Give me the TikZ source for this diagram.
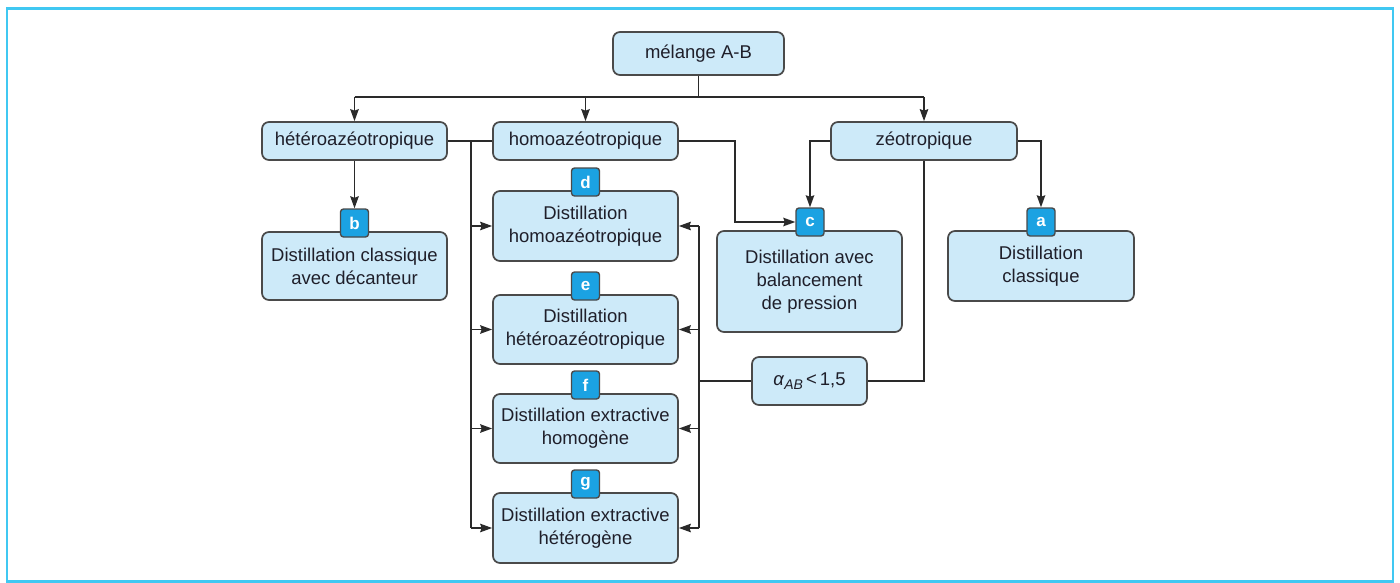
\documentclass[tikz,border=0pt]{standalone}
\usepackage{fontspec}
\setmainfont{Liberation Sans}
\usetikzlibrary{arrows.meta}
\definecolor{boxfill}{HTML}{CDEAF9}
\definecolor{boxdraw}{HTML}{4A4A4A}
\definecolor{tagfill}{HTML}{1BA2E2}
\definecolor{framec}{HTML}{40C8F2}
\definecolor{txt}{HTML}{1F1F2A}
\definecolor{linec}{HTML}{2A2A2A}
\begin{document}
\begin{tikzpicture}[x=1pt,y=-1pt,
  box/.style={draw=boxdraw, line width=1.7pt, fill=boxfill, rounded corners=7pt,
    align=center, font=\fontsize{18.5}{23}\selectfont, text=txt, inner sep=0pt},
  tag/.style={draw=boxdraw, line width=1.4pt, fill=tagfill, rounded corners=3pt,
    text=white, font=\fontsize{17}{17}\selectfont\bfseries,
    minimum width=28pt, minimum height=28pt, inner sep=0pt},
  conn/.style={line width=1.6pt, draw=linec},
  arr/.style={conn, -{Stealth[length=12pt,width=8.5pt,inset=1.5pt]}}]
\useasboundingbox (0,0) rectangle (1400,583);
\draw[framec, line width=2.6pt] (7,8.5) rectangle (1393,581.5);

% level boxes
\node[box, minimum width=171pt, minimum height=43pt] (mel) at (698.5,53.5) {mélange A-B};
\node[box, minimum width=185pt, minimum height=38pt] (het) at (354.5,141) {hétéroazéotropique};
\node[box, minimum width=185pt, minimum height=38pt] (hom) at (585.5,141) {homoazéotropique};
\node[box, minimum width=186pt, minimum height=38pt] (zeo) at (924,141) {zéotropique};

% leaf boxes
\node[box, minimum width=185pt, minimum height=68pt] (bb) at (354.5,266) {Distillation classique\\avec décanteur};
\node[box, minimum width=185pt, minimum height=70pt] (db) at (585.5,226) {Distillation\\homoazéotropique};
\node[box, minimum width=185pt, minimum height=69pt] (eb) at (585.5,329.5) {Distillation\\hétéroazéotropique};
\node[box, minimum width=185pt, minimum height=69pt] (fb) at (585.5,428.5) {Distillation extractive\\homogène};
\node[box, minimum width=185pt, minimum height=70pt] (gb) at (585.5,528) {Distillation extractive\\hétérogène};
\node[box, minimum width=185pt, minimum height=101pt] (cb) at (809.5,281.5) {Distillation avec\\balancement\\de pression};
\node[box, minimum width=186pt, minimum height=70pt] (ab) at (1041,266) {Distillation\\classique};
\node[box, minimum width=115pt, minimum height=48pt] (al) at (809.5,381)
  {\textit{α}\raisebox{-0.45ex}{\fontsize{14}{14}\selectfont\textit{AB}}\,<\,1,5};

% tags
\node[tag] (tb) at (354.5,223) {b};
\node[tag] (td) at (585.5,182) {d};
\node[tag] (te) at (585.5,286) {e};
\node[tag] (tf) at (585.5,385) {f};
\node[tag] (tg) at (585.5,484) {g};
\node[tag] (tc) at (810,222) {c};
\node[tag] (ta) at (1041,222) {a};

% top bus
\coordinate (bus) at (698.5,97);
\draw[conn] (mel.south) -- (bus);
\draw[conn] (het.north |- bus) -- (zeo.north |- bus);
\draw[arr] (het.north |- bus) -- (het.north);
\draw[arr] (hom.north |- bus) -- (hom.north);
\draw[arr] (zeo.north |- bus) -- (zeo.north);

% heteroazeotropic
\draw[arr] (het.south) -- (tb.north);
\draw[conn] (het.east) -- (hom.west);

% left bus
\coordinate (lbt) at (471,141);
\coordinate (lbb) at (471,528);
\draw[conn] (lbt) -- (lbb);
\draw[arr] (lbt |- db.west) -- (db.west);
\draw[arr] (lbt |- eb.west) -- (eb.west);
\draw[arr] (lbt |- fb.west) -- (fb.west);
\draw[arr] (lbb) -- (gb.west);

% homoazeotropic to c
\coordinate (hc) at (735,141);
\draw[arr] (hom.east) -- (hc) |- (tc.west);

% zeotropic
\draw[arr] (zeo.west) -| (tc.north);
\draw[arr] (zeo.east) -| (ta.north);
\draw[conn] (zeo.south) |- (al.east);

% right bus
\coordinate (rbt) at (699,226);
\coordinate (rbb) at (699,528);
\draw[conn] (al.west) -- (rbt |- al.west);
\draw[conn] (rbt) -- (rbb);
\draw[arr] (rbt) -- (db.east);
\draw[arr] (rbt |- eb.east) -- (eb.east);
\draw[arr] (rbt |- fb.east) -- (fb.east);
\draw[arr] (rbb) -- (gb.east);
\end{tikzpicture}
\end{document}
